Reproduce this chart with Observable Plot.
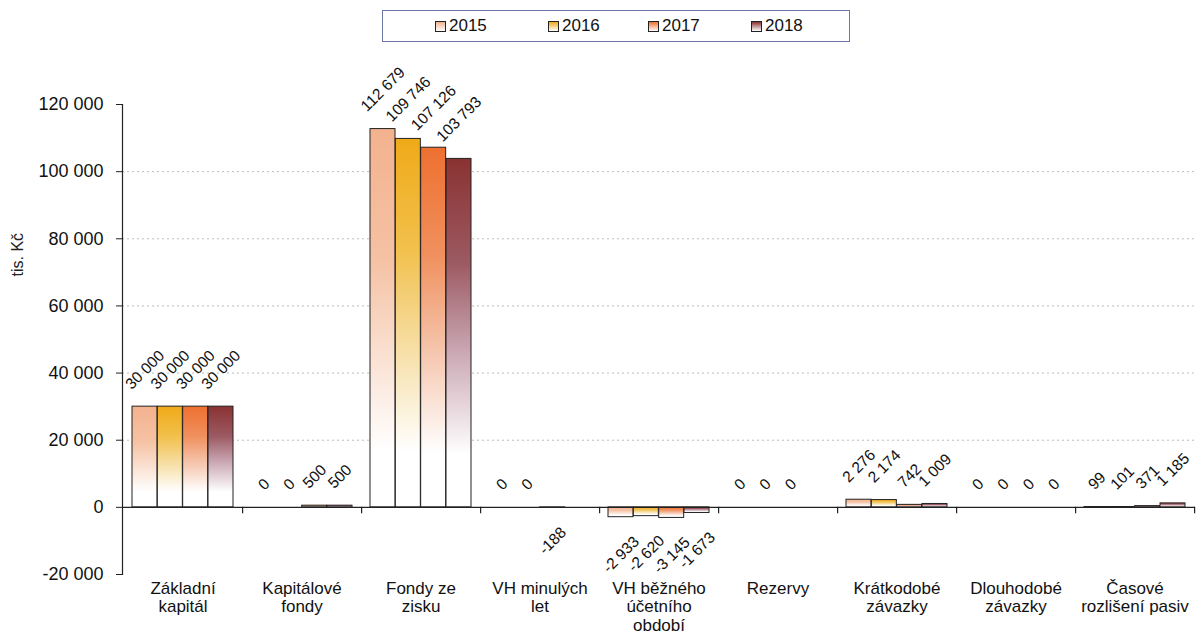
<!DOCTYPE html>
<html><head><meta charset="utf-8">
<script src="https://cdn.jsdelivr.net/npm/d3@7"></script>
<script src="https://cdn.jsdelivr.net/npm/@observablehq/plot@0.6"></script>
<style>
body{margin:0;background:#fff;font-family:"Liberation Sans",Arial,sans-serif;}
#wrap{position:relative;width:1201px;height:636px;overflow:hidden;}
#legend{position:absolute;left:382px;top:10px;width:468px;height:32px;border:1.5px solid #6b78a6;box-sizing:border-box;}
.item{position:absolute;top:6px;font-size:17px;line-height:18px;color:#111;display:flex;align-items:center;}
.sw{width:9px;height:9px;border:1px solid #222;margin-right:3px;}
</style></head><body>
<div id="wrap"><div id="chart"></div><div id="legend"></div></div>
<script>
const categories = ["Základní\nkapitál","Kapitálové\nfondy","Fondy ze\nzisku","VH minulých\nlet","VH běžného\núčetního\nobdobí","Rezervy","Krátkodobé\nzávazky","Dlouhodobé\nzávazky","Časové\nrozlišení pasiv"];
const years = ["2015","2016","2017","2018"];
const values2015 = [30000, 0, 112679, 0, -2933, 0, 2276, 0, 99];
const values2016 = [30000, 0, 109746, 0, -2620, 0, 2174, 0, 101];
const values2017 = [30000, 500, 107126, -188, -3145, 0, 742, 0, 371];
const values2018 = [30000, 500, 103793, null, -1673, null, 1009, 0, 1185];
const yTicks = [-20000, 0, 20000, 40000, 60000, 80000, 100000, 120000];
const gridTicks = [20000, 40000, 60000, 80000, 100000];
const yLabel = "tis. Kč";

const seriesValues = [values2015, values2016, values2017, values2018];
const gradStops = [
  [[0,"#f3b28e"],[0.35,"#f5c2a4"],[0.85,"#ffffff"]],
  [[0,"#efaa18"],[0.3,"#f2c04c"],[0.55,"#f6dc9e"],[0.85,"#ffffff"]],
  [[0,"#ee7030"],[0.3,"#f0905e"],[0.55,"#f5c2a8"],[0.85,"#ffffff"]],
  [[0,"#8a3232"],[0.3,"#9c5a62"],[0.55,"#c9a6b2"],[0.85,"#ffffff"]]
];

const rows = [];
years.forEach((y, j) => categories.forEach((c, i) => {
  rows.push({cat: c, year: y, j, value: seriesValues[j][i]});
}));

const fmt = v => (v < 0 ? "-" : "") + Math.abs(v).toString().replace(/\B(?=(\d{3})+(?!\d))/g, " ");

const W = 1201, H = 636, mL = 122, mR = 6, mT = 104, mB = 62;
const padIn = 0.15, padOut = 0.075;
const step = (W - mL - mR) / (categories.length - padIn + 2 * padOut);
const bw = step * (1 - padIn);
const bar = bw / 4;
const fs = 15.5;
const charW = ch => ch === " " ? 0.278 : ch === "-" ? 0.333 : 0.556;
const halfExt = s => ([...s].reduce((a, ch) => a + charW(ch), 0) * fs + 0.72 * fs) * 0.354;

const defs = () => {
  const d = d3.create("svg:defs");
  gradStops.forEach((stops, j) => {
    const g = d.append("linearGradient").attr("id", "g" + j).attr("x1", 0).attr("y1", 0).attr("x2", 0).attr("y2", 1);
    stops.forEach(([o, c]) => g.append("stop").attr("offset", o).attr("stop-color", c));
  });
  return d.node();
};

const marks = [defs,
  Plot.ruleY(gridTicks, {stroke: "#bcbcbc", strokeDasharray: "2,3"})
];
years.forEach((y, j) => {
  marks.push(Plot.barY(rows.filter(d => d.j === j && d.value != null), {
    x: "cat", y: "value", fill: `url(#g${j})`, stroke: "#222", strokeWidth: 1,
    insetLeft: j * bar, insetRight: (3 - j) * bar
  }));
});
marks.push(Plot.ruleY([0], {stroke: "#222", strokeWidth: 1.2}));
marks.push(Plot.frame({anchor: "left", stroke: "#222", strokeWidth: 1.2}));
marks.push(Plot.ruleX(categories, {x: d => d, y1: 0, y2: -1900, dx: step / 2, stroke: "#222", strokeWidth: 1.2}));
marks.push(Plot.axisY({ticks: yTicks, tickFormat: fmt, tickSize: 6, tickPadding: 13, fontSize: 18, label: null, stroke: "#222", fill: "#111"}));
rows.filter(d => d.value != null).forEach(d => {
  const s = fmt(d.value);
  const off = (d.value < 0 ? 18 : 16) + halfExt(s);
  marks.push(Plot.text([d], {
    x: "cat", y: "value", text: () => s, rotate: -45, textAnchor: "middle", lineAnchor: "middle",
    dx: (d.j - 1.5) * bar, dy: d.value < 0 ? off : -off, fontSize: fs, fill: "#111"
  }));
});
marks.push(Plot.text(categories, {text: d => d, x: d => d, frameAnchor: "bottom", lineAnchor: "top", dy: 6, fontSize: 17, lineHeight: 1.1, fill: "#111"}));
marks.push(Plot.text([yLabel], {text: d => d, frameAnchor: "left", dx: -105, dy: -63, rotate: -90, fontSize: 16, fill: "#222"}));

const chart = Plot.plot({
  width: W, height: H, marginLeft: mL, marginRight: mR, marginTop: mT, marginBottom: mB,
  style: {fontFamily: "Liberation Sans, Arial, sans-serif", fontSize: "17px", background: "#fff", color: "#111"},
  x: {domain: categories, paddingInner: padIn, paddingOuter: padOut, axis: null},
  y: {domain: [-20000, 120000], axis: null},
  marks
});
document.getElementById("chart").appendChild(chart);

const leg = document.getElementById("legend");
const legX = [52, 165, 265, 368];
years.forEach((y, j) => {
  const it = document.createElement("div");
  it.className = "item"; it.style.left = legX[j] + "px";
  const sw = document.createElement("div"); sw.className = "sw";
  sw.style.background = `linear-gradient(to bottom, ${gradStops[j][0][1]}, #ffffff)`;
  it.appendChild(sw); it.appendChild(document.createTextNode(y));
  leg.appendChild(it);
});
</script></body></html>
